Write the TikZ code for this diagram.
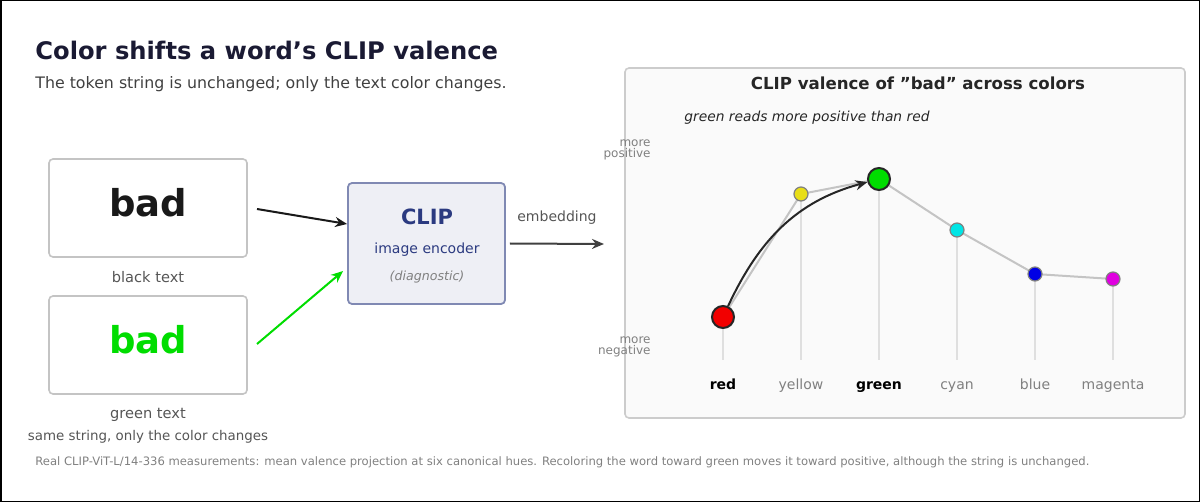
\documentclass[tikz,border=0pt]{standalone}
\usepackage{fontspec}
\setmainfont{DejaVu Sans}
\usetikzlibrary{arrows.meta}
\definecolor{navy}{HTML}{1A1A33}
\definecolor{clipblue}{HTML}{2B3A80}
\definecolor{txtgray}{HTML}{555555}
\definecolor{lgray}{HTML}{C4C4C4}
\definecolor{bgreen}{HTML}{00DD00}
\begin{document}
\begin{tikzpicture}[x=0.5pt,y=-0.5pt,
  wbox/.style={draw=lgray,line width=0.8pt,rounded corners=2pt,fill=white,minimum width=99pt,minimum height=49pt,inner sep=0},
  captxt/.style={font=\fontsize{7.3}{9}\selectfont,text=txtgray},
  arr/.style={-{Stealth[length=6pt,width=5pt]},line width=1pt},
  tick/.style={draw=lgray!55,line width=0.6pt},
  xl/.style={anchor=base,font=\fontsize{7}{8}\selectfont,text=gray},
  xb/.style={anchor=base,font=\fontsize{7}{8}\selectfont\bfseries,text=black},
  dot/.style={circle,draw=black!50,line width=0.6pt,minimum size=7pt,inner sep=0},
  bdot/.style={circle,draw=black!85,line width=1pt,minimum size=11pt,inner sep=0}]
\useasboundingbox (0,0) rectangle (1200,502);
\draw[black,line width=1pt] (0.5,0.5) rectangle (1199.5,501.5);
\node[anchor=west,inner sep=0,font=\fontsize{12.1}{14}\selectfont\bfseries,text=navy] (title) at (35,50) {Color shifts a word\symbol{"27}s CLIP valence};
\node[anchor=west,inner sep=0,font=\fontsize{7.9}{10}\selectfont,text=black!75] (sub) at (35,84) {The token string is unchanged; only the text color changes.};
\node[wbox] (b1) at (148,208) {};
\node[font=\fontsize{18.5}{20}\selectfont\bfseries,text=black!90] (w1) at (148,203) {bad};
\node[captxt] (c1) at (148,277) {black text};
\node[wbox] (b2) at (148,345) {};
\node[font=\fontsize{18.5}{20}\selectfont\bfseries,text=bgreen] (w2) at (148,340) {bad};
\node[captxt] (c2) at (148,415) {green text};
\node[captxt,font=\fontsize{6.7}{8}\selectfont] (c3) at (148,437) {same string, only the color changes};
\node[draw=clipblue!60,fill=clipblue!8,line width=0.9pt,rounded corners=2pt,minimum width=78.5pt,minimum height=60.5pt] (clip) at (426.5,243.5) {};
\node[font=\fontsize{10.5}{12}\selectfont\bfseries,text=clipblue] at (427,217) {CLIP};
\node[font=\fontsize{7}{9}\selectfont,text=clipblue] at (427,250) {image encoder};
\node[font=\fontsize{6.3}{8}\selectfont\itshape,text=gray] at (427,277) {(diagnostic)};
\coordinate (a1) at (257,209); \coordinate (a2) at (257,344);
\draw[arr,black!90] (a1) -- (clip.west|-0,224);
\draw[arr,bgreen] (a2) -- ([xshift=-2pt]clip.west|-0,271);
\coordinate (e1) at (604,244);
\draw[arr,black!75] ([xshift=2pt]clip.east) -- (e1) node[midway,above=6pt,font=\fontsize{7}{8}\selectfont,text=txtgray] {embedding};
\node[draw=black!20,fill=black!2,line width=0.8pt,rounded corners=2pt,minimum width=280pt,minimum height=175pt] (panel) at (905,243) {};
\node[font=\fontsize{8.3}{10}\selectfont\bfseries,text=black!85] at (918,83) {CLIP valence of \symbol{"22}bad\symbol{"22} across colors};
\node[anchor=west,inner sep=0,font=\fontsize{6.9}{8}\selectfont\itshape,text=black!85] at (684,118) {green reads more positive than red};
\node[anchor=east,align=right,inner sep=0,font=\fontsize{6}{5.5}\selectfont,text=gray] at (651,150) {more\\positive};
\node[anchor=east,align=right,inner sep=0,font=\fontsize{6}{5.5}\selectfont,text=gray] at (651,347) {more\\negative};
\foreach \x/\y/\n in {723/317/r,801/194/y,879/179/g,957/230/c,1035/274/b,1113/279/m} {
  \coordinate (p\n) at (\x,\y);
  \draw[tick] (\x,\y) -- (\x,360);
}
\draw[lgray,line width=1pt] (pr)--(py)--(pg)--(pc)--(pb)--(pm);
\node[bdot,fill=red!95!black] (nr) at (pr) {};
\node[dot,fill=yellow!90!black] (ny) at (py) {};
\node[bdot,fill=bgreen] (ng) at (pg) {};
\node[dot,fill={rgb,255:red,0;green,229;blue,229}] (nc) at (pc) {};
\node[dot,fill=blue!90!black] (nb) at (pb) {};
\node[dot,fill={rgb,255:red,224;green,0;blue,224}] (nm) at (pm) {};
\draw[arr,black!85,line width=1pt] (nr) to[out=65,in=195] (ng);
\node[xb] at (723,389) {red};
\node[xl] at (801,389) {yellow};
\node[xb] at (879,389) {green};
\node[xl] at (957,389) {cyan};
\node[xl] at (1035,389) {blue};
\node[xl] at (1113,389) {magenta};
\node[anchor=west,inner sep=0,font=\fontsize{5.8}{7}\selectfont,text=gray] at (35,462) {Real CLIP-ViT-L/14-336 measurements: mean valence projection at six canonical hues. Recoloring the word toward green moves it toward positive, although the string is unchanged.};
\end{tikzpicture}
\end{document}
